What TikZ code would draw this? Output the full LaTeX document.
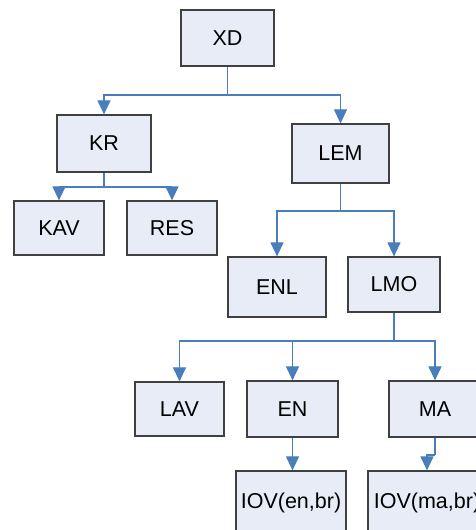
\documentclass[tikz,border=0pt]{standalone}
\usepackage{fontspec}
\setmainfont{Liberation Sans}
\usetikzlibrary{arrows.meta}
\definecolor{boxfill}{RGB}{232,236,247}
\definecolor{boxline}{RGB}{64,64,64}
\definecolor{linkblue}{RGB}{74,126,187}
\tikzset{
  box/.style={draw=boxline, fill=boxfill, line width=1.2pt, inner sep=0pt,
    font=\fontsize{21.5}{25}\selectfont},
  link/.style={draw=linkblue, line width=1.1pt,
    -{Triangle[length=14pt,width=13pt]}},
  plain/.style={draw=linkblue, line width=1.1pt}
}
\begin{document}
\begin{tikzpicture}[x=1pt,y=-1pt]
\useasboundingbox (0,0) rectangle (476,530);
% boxes
\node[box, minimum width=93pt, minimum height=56pt] (XD)  at (227.5,38)  {XD};
\node[box, minimum width=94pt, minimum height=57pt] (KR)  at (104,143.5) {KR};
\node[box, minimum width=97pt, minimum height=59pt] (LEM) at (340.5,153.5) {LEM};
\node[box, minimum width=90pt, minimum height=54pt] (KAV) at (59,228)    {KAV};
\node[box, minimum width=90pt, minimum height=54pt] (RES) at (172,228)   {RES};
\node[box, minimum width=98pt, minimum height=60pt] (ENL) at (277,287)   {ENL};
\node[box, minimum width=92pt, minimum height=55pt] (LMO) at (394,284.5) {LMO};
\node[box, minimum width=89pt, minimum height=54pt] (LAV) at (179.5,409) {LAV};
\node[box, minimum width=91pt, minimum height=56pt] (EN)  at (292.5,409) {EN};
\node[box, minimum width=92pt, minimum height=56pt] (MA)  at (435,409)   {MA};
\node[box, minimum width=110pt, minimum height=64pt] (IOVen) at (291,503) {IOV(en,br)};
\node[box, minimum width=118pt, minimum height=64pt] (IOVma) at (427,503) {IOV(ma,br)};
% junction points of the branches
\coordinate (jXD)  at (227.5,95);
\coordinate (jKR)  at (104,187);
\coordinate (jLEM) at (340.5,211);
\coordinate (jLMO) at (394,341);
\coordinate (jMA)  at (435,455);
% connectors
\draw[plain] (XD.south) -- (jXD);
\draw[link] (jXD) -| (KR.north);
\draw[link] (jXD) -| (LEM.north);
\draw[plain] (KR.south) -- (jKR);
\draw[link] (jKR) -| (KAV.north);
\draw[link] (jKR) -| (RES.north);
\draw[plain] (LEM.south) -- (jLEM);
\draw[link] (jLEM) -| (ENL.north);
\draw[link] (jLEM) -| (LMO.north);
\draw[plain] (LMO.south) -- (jLMO);
\draw[link] (jLMO) -| (LAV.north);
\draw[link] (jLMO) -| (EN.north);
\draw[link] (jLMO) -| (MA.north);
\draw[link] (EN.south) -- (EN.south |- IOVen.north);
\draw[plain] (MA.south) -- (jMA);
\draw[link] (jMA) -| (IOVma.north);
\end{tikzpicture}
\end{document}
